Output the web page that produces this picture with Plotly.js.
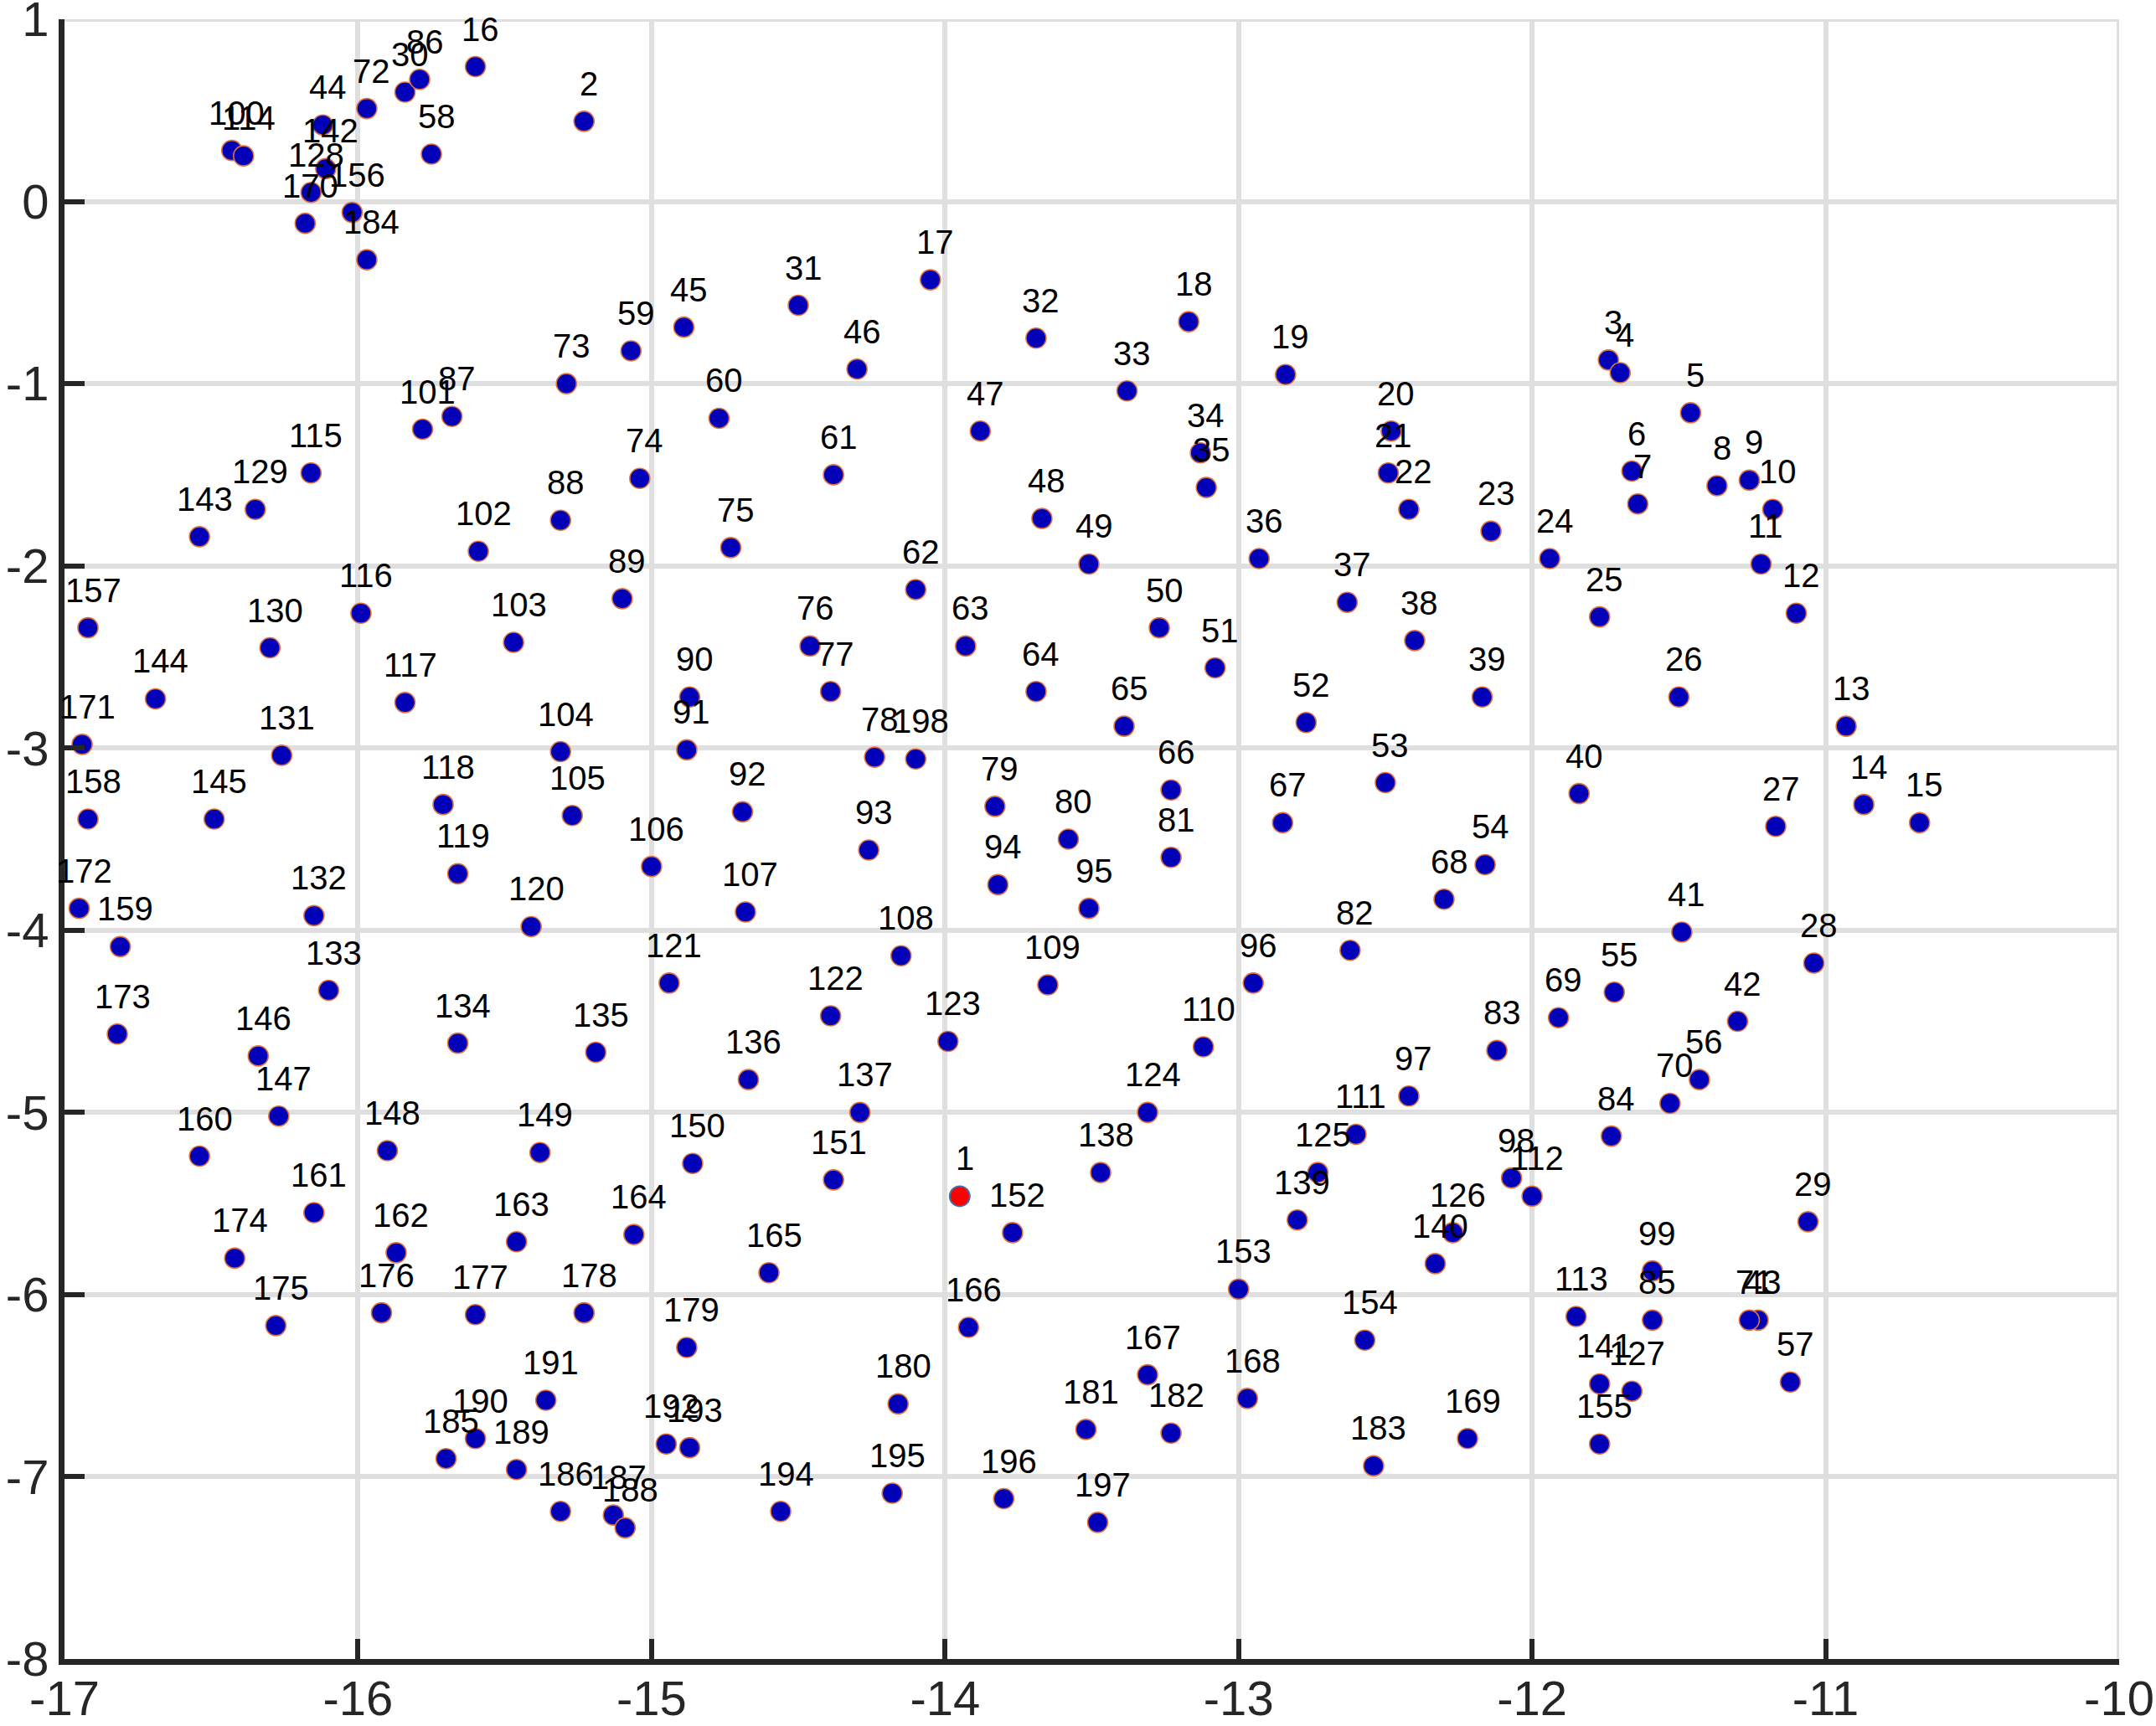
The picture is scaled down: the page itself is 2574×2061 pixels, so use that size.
<!DOCTYPE html>
<html>
<head>
<meta charset="utf-8">
<script src="https://cdn.plot.ly/plotly-3.0.1.min.js"></script>
<style>html,body{margin:0;padding:0;background:#fff;}</style>
</head>
<body>
<div id="chart" style="width:2574px;height:2061px;"></div>
<script>
// Point labels (1..198)
const pointIds = Array.from({length: 198}, (_, i) => i + 1);

// x values, by point id 1..198
const xValues = [
  -13.95,-15.23,-11.74,-11.70,-11.46,-11.66,-11.64,-11.37,-11.26,-11.18,
  -11.22,-11.10,-10.93,-10.87,-10.68,-15.60,-14.05,-13.17,-12.84,-12.48,
  -12.49,-12.42,-12.14,-11.94,-11.77,-11.50,-11.17,-11.04,-11.06,-15.84,
  -14.50,-13.69,-13.38,-13.13,-13.11,-12.93,-12.63,-12.40,-12.17,-11.84,
  -11.49,-11.30,-11.23,-16.12,-14.89,-14.30,-13.88,-13.67,-13.51,-13.27,
  -13.08,-12.77,-12.50,-12.16,-11.72,-11.43,-11.12,-15.75,-15.07,-14.77,
  -14.38,-14.10,-13.93,-13.69,-13.39,-13.23,-12.85,-12.30,-11.91,-11.53,
  -11.26,-15.97,-15.29,-15.04,-14.73,-14.46,-14.39,-14.24,-13.83,-13.58,
  -13.23,-12.62,-12.12,-11.73,-11.59,-15.79,-15.68,-15.31,-15.10,-14.87,
  -14.88,-14.69,-14.26,-13.82,-13.51,-12.95,-12.42,-12.07,-11.59,-16.43,
  -15.78,-15.59,-15.47,-15.31,-15.27,-15.00,-14.68,-14.15,-13.65,-13.12,
  -12.60,-12.00,-11.85,-16.39,-16.16,-15.99,-15.84,-15.71,-15.66,-15.41,
  -14.94,-14.39,-13.99,-13.31,-12.73,-12.27,-11.66,-16.16,-16.35,-16.30,
  -16.26,-16.15,-16.10,-15.66,-15.19,-14.67,-14.29,-13.47,-12.80,-12.33,
  -11.77,-16.11,-16.54,-16.69,-16.49,-16.34,-16.27,-15.90,-15.38,-14.86,
  -14.38,-13.77,-13.00,-12.57,-11.77,-16.02,-16.92,-16.92,-16.81,-16.54,
  -16.15,-15.87,-15.46,-15.06,-14.60,-13.92,-13.31,-12.97,-12.22,-16.18,
  -16.94,-16.95,-16.82,-16.42,-16.28,-15.92,-15.60,-15.23,-14.88,-14.16,
  -13.52,-13.23,-12.54,-15.97,-15.70,-15.31,-15.13,-15.09,-15.46,-15.60,
  -15.36,-14.95,-14.87,-14.56,-14.18,-13.80,-13.48,-14.10
];

// y values, by point id 1..198
const yValues = [
  -5.46, 0.44,-0.87,-0.94,-1.16,-1.48,-1.66,-1.56,-1.53,-1.69,
  -1.99,-2.26,-2.88,-3.31,-3.41, 0.74,-0.43,-0.66,-0.95,-1.26,
  -1.49,-1.69,-1.81,-1.96,-2.28,-2.72,-3.43,-4.18,-5.60, 0.60,
  -0.57,-0.75,-1.04,-1.38,-1.57,-1.96,-2.20,-2.41,-2.72,-3.25,
  -4.01,-4.50,-6.14, 0.42,-0.69,-0.92,-1.26,-1.74,-1.99,-2.34,
  -2.56,-2.86,-3.19,-3.64,-4.34,-4.82,-6.48, 0.26,-0.82,-1.19,
  -1.50,-2.13,-2.44,-2.69,-2.88,-3.23,-3.41,-3.83,-4.48,-4.95,
  -6.14, 0.51,-1.00,-1.52,-1.90,-2.44,-2.69,-3.05,-3.32,-3.50,
  -3.60,-4.11,-4.66,-5.13,-6.14, 0.67,-1.18,-1.75,-2.18,-2.72,
  -3.01,-3.35,-3.56,-3.75,-3.88,-4.29,-4.91,-5.36,-5.87, 0.28,
  -1.25,-1.92,-2.42,-3.02,-3.37,-3.65,-3.90,-4.14,-4.30,-4.64,
  -5.12,-5.46,-6.12, 0.25,-1.49,-2.26,-2.75,-3.31,-3.69,-3.98,
  -4.29,-4.47,-4.61,-5.00,-5.33,-5.66,-6.53, 0.05,-1.69,-2.45,
  -3.04,-3.92,-4.33,-4.62,-4.67,-4.82,-5.00,-5.33,-5.59,-5.83,
  -6.49, 0.18,-1.84,-2.73,-3.39,-4.69,-5.02,-5.21,-5.22,-5.28,
  -5.37,-5.66,-5.97,-6.25,-6.82,-0.06,-2.34,-3.39,-4.09,-5.24,
  -5.55,-5.77,-5.71,-5.67,-5.88,-6.18,-6.44,-6.57,-6.79,-0.12,
  -2.98,-3.88,-4.57,-5.80,-6.17,-6.10,-6.11,-6.10,-6.29,-6.60,
  -6.74,-6.76,-6.94,-0.32,-6.90,-7.19,-7.21,-7.28,-6.96,-6.79,
  -6.58,-6.82,-6.84,-7.19,-7.09,-7.12,-7.25,-3.06
];

// Axis ticks
const xTickVals = [-17, -16, -15, -14, -13, -12, -11, -10];
const xTickText = ['-17', '-16', '-15', '-14', '-13', '-12', '-11', '-10'];
const yTickVals = [-8, -7, -6, -5, -4, -3, -2, -1, 0, 1];
const yTickText = ['-8', '-7', '-6', '-5', '-4', '-3', '-2', '-1', '0', '1'];

// Highlighted point id
const highlightId = 1;

const FONT = 'Helvetica, "Liberation Sans", Arial, sans-serif';
const INK = '#262626';
const GRID = '#dfdfdf';

const idx = pointIds.map((id, i) => i);
const others = idx.filter(i => pointIds[i] !== highlightId);
const hiIdx = idx.filter(i => pointIds[i] === highlightId);

const traces = [
  {
    type: 'scatter', mode: 'markers',
    x: others.map(i => xValues[i]), y: others.map(i => yValues[i]),
    marker: {size: 24, color: '#0000b8', line: {color: '#e0733a', width: 1.6}},
    hoverinfo: 'skip', cliponaxis: false
  },
  {
    type: 'scatter', mode: 'markers',
    x: hiIdx.map(i => xValues[i]), y: hiIdx.map(i => yValues[i]),
    marker: {size: 24, color: '#ff0000', line: {color: '#3f6fae', width: 2}},
    hoverinfo: 'skip', cliponaxis: false
  }
];

const annotations = idx.map(i => ({
  x: xValues[i], y: yValues[i], xref: 'x', yref: 'y',
  text: String(pointIds[i]), showarrow: false,
  xanchor: 'center', yanchor: 'middle',
  xshift: 6, yshift: 45,
  font: {family: FONT, size: 40, color: '#000000'}
}));

// Grid lines at the far (top/right) edges, from the tick arrays
const xMax = Math.max(...xTickVals), xMin = Math.min(...xTickVals);
const yMax = Math.max(...yTickVals), yMin = Math.min(...yTickVals);
const shapes = [
  {type: 'line', xref: 'x', yref: 'y', x0: xMin, x1: xMax, y0: yMax, y1: yMax,
   line: {color: GRID, width: 6}, layer: 'below'},
  {type: 'line', xref: 'x', yref: 'y', x0: xMax, x1: xMax, y0: yMin, y1: yMax,
   line: {color: GRID, width: 6}, layer: 'below'}
];

const axisCommon = {
  showline: true, linecolor: INK, linewidth: 7,
  showgrid: true, gridcolor: GRID, gridwidth: 6,
  zeroline: false,
  ticks: 'inside', ticklen: 24, tickwidth: 6, tickcolor: INK,
  tickfont: {family: FONT, size: 58, color: INK},
  ticklabeloverflow: 'allow',
  tickmode: 'array', fixedrange: true
};

const layout = {
  width: 2574, height: 2061, autosize: false,
  margin: {l: 77, r: 44, t: 23, b: 80, pad: 0},
  paper_bgcolor: '#ffffff', plot_bgcolor: '#ffffff',
  showlegend: false,
  xaxis: Object.assign({}, axisCommon, {
    range: [-17, -10], tickvals: xTickVals, ticktext: xTickText,
    ticklabelstandoff: -10
  }),
  yaxis: Object.assign({}, axisCommon, {
    range: [-8, 1], tickvals: yTickVals, ticktext: yTickText
  }),
  shapes: shapes,
  annotations: annotations
};

Plotly.newPlot('chart', traces, layout, {displayModeBar: false, staticPlot: true});
</script>
</body>
</html>
